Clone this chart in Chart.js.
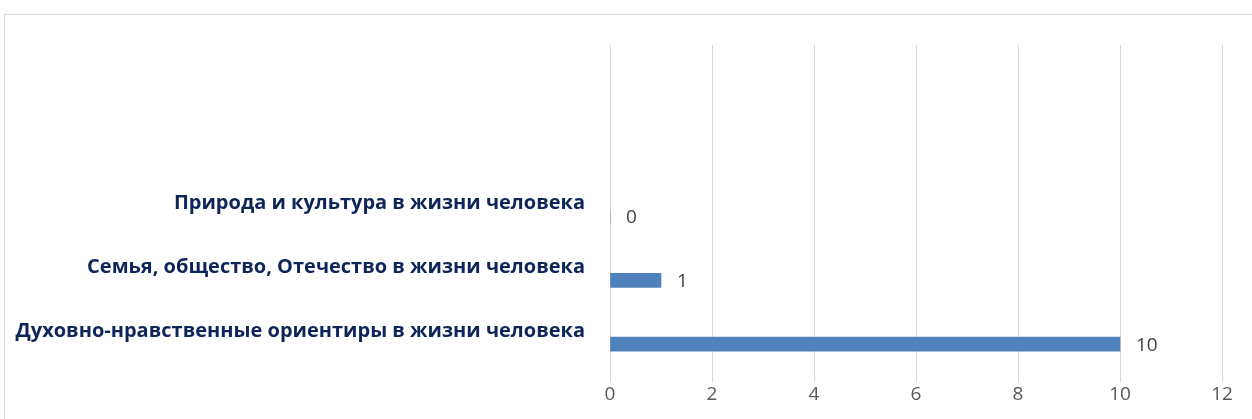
<!DOCTYPE html>
<html>
<head>
<meta charset="utf-8">
<script src="https://cdn.jsdelivr.net/npm/chart.js@4"></script>
<style>
  html, body { margin: 0; padding: 0; background: #fff; overflow: hidden; }
  #frame { position: absolute; left: 4px; top: 14px; width: 1400px; height: 600px; border: 1px solid #d9d9d9; }
  #wrap { position: absolute; left: 0; top: 0; width: 1252px; height: 419px; }
</style>
</head>
<body>
<div id="frame"></div>
<div id="wrap"><canvas id="myChart"></canvas></div>
<script>
// категории снизу вверх
const categories = [
    'Духовно-нравственные ориентиры в жизни человека',
    'Семья, общество, Отечество в жизни человека',
    'Природа и культура в жизни человека'
];
const values = [10, 1, 0];
const xTicks = [0, 2, 4, 6, 8, 10, 12];

const points = values.map((v, i) => ({ x: v, y: i }));

// подписи значений справа от столбцов
const valueLabels = {
    id: 'valueLabels',
    afterDatasetsDraw(chart) {
        const ctx = chart.ctx;
        const meta = chart.getDatasetMeta(0);
        ctx.save();
        ctx.font = '19px "Open Sans"';
        ctx.fillStyle = '#404040';
        ctx.textAlign = 'left';
        ctx.textBaseline = 'middle';
        meta.data.forEach((bar, i) => {
            ctx.fillText(String(values[i]), bar.x + 16, bar.y + 1);
        });
        ctx.restore();
    }
};

const ctx = document.getElementById('myChart').getContext('2d');
new Chart(ctx, {
    type: 'bar',
    data: {
        datasets: [{
            data: points,
            backgroundColor: '#4f81bd',
            borderWidth: 0,
            barThickness: 14
        }]
    },
    options: {
        indexAxis: 'y',
        responsive: true,
        maintainAspectRatio: false,
        animation: false,
        layout: { padding: { top: 45, right: 30, left: 0, bottom: 0 } },
        plugins: {
            legend: { display: false },
            tooltip: { enabled: false }
        },
        scales: {
            x: {
                min: 0,
                max: 12,
                afterBuildTicks: s => { s.ticks = xTicks.map(v => ({ value: v })); },
                afterFit: s => { s.height = 35; },
                grid: { color: '#d9d9d9', lineWidth: 1, drawTicks: false },
                border: { display: false },
                ticks: {
                    padding: 1,
                    color: '#595959',
                    font: { family: 'Open Sans', size: 19 }
                }
            },
            y: {
                type: 'linear',
                min: -0.594,
                max: 4.69,
                offset: false,
                bounds: 'data',
                afterBuildTicks: s => { s.ticks = categories.map((c, i) => ({ value: i })); },
                afterFit: s => { s.width = 610; },
                grid: { display: false, drawTicks: false },
                border: { display: false },
                ticks: {
                    padding: 25,
                    labelOffset: -13,
                    color: '#0e2559',
                    font: { family: 'Open Sans', size: 20, weight: 'bold' },
                    callback: v => categories[v]
                }
            }
        }
    },
    plugins: [valueLabels]
});
</script>
</body>
</html>
